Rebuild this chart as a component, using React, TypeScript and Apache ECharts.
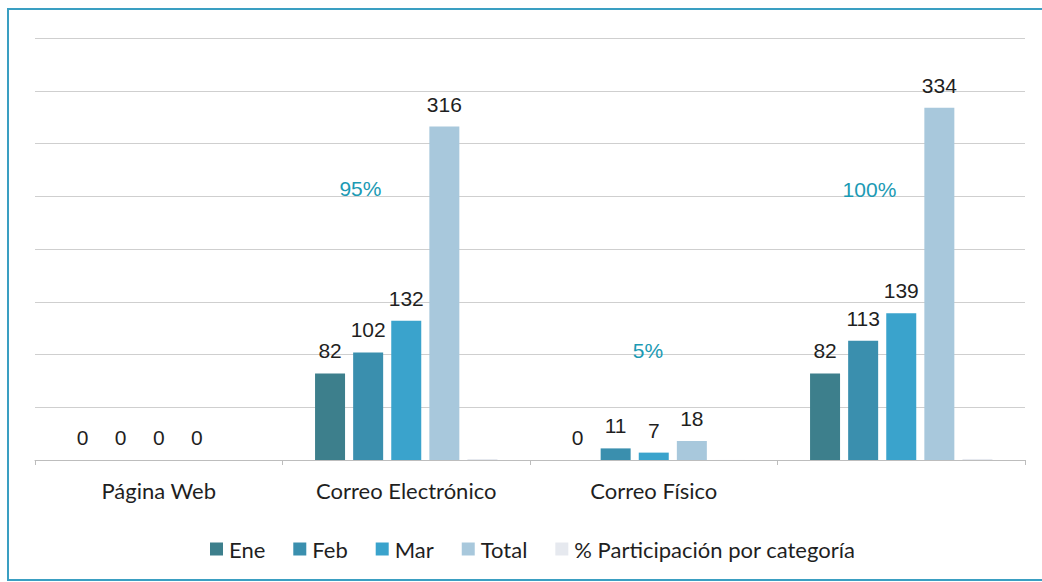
import React, { useEffect, useRef } from "react";
import * as echarts from "echarts";

const categories = ["Página Web", "Correo Electrónico", "Correo Físico", ""];
const ene = [0, 82, 0, 82];
const feb = [0, 102, 11, 113];
const mar = [0, 132, 7, 139];
const total = [0, 316, 18, 334];
const participacion: (number | null)[] = [null, 0.95, 0.05, 1.0];
const seriesNames = ["Ene", "Feb", "Mar", "Total", "% Participación por categoría"];

// layout of the manually placed percentage labels (pixel offsets)
const pctLabelOffsets: [number, number][] = [
  [0, 0],
  [-122, -260],
  [-82, -99],
  [-108, -259],
];

const colors = ["#3d7f8c", "#3a8fae", "#3aa3cc", "#a8c8dc", "#e6e9ef"];

export default function App() {
  const ref = useRef<HTMLDivElement>(null);
  useEffect(() => {
    if (!ref.current) return;
    const chart = echarts.init(ref.current, undefined, { renderer: "svg" });
    const valueLabel = {
      show: true,
      position: "top",
      distance: 12,
      fontFamily: "Liberation Sans, Arial, sans-serif",
      fontSize: 21,
      color: "#1f1f1f",
    };
    const mk = (name: string, data: number[], color: string) => ({
      name,
      type: "bar",
      data,
      barWidth: 30,
      barGap: "27%",
      itemStyle: { color },
      label: valueLabel,
    });
    chart.setOption({
      animation: false,
      backgroundColor: "#ffffff",
      color: colors,
      grid: { left: 35, right: 17, top: 38, bottom: 122, containLabel: false },
      xAxis: {
        type: "category",
        data: categories,
        axisLine: { lineStyle: { color: "#bdbdbd", width: 1 } },
        axisTick: { show: true, length: 5, lineStyle: { color: "#bdbdbd" } },
        axisLabel: {
          fontFamily: "Lato, sans-serif",
          fontSize: 22,
          color: "#1f1f1f",
          margin: 19,
        },
      },
      yAxis: {
        type: "value",
        min: 0,
        max: 400,
        interval: 50,
        axisLabel: { show: false },
        axisLine: { show: false },
        axisTick: { show: false },
        splitLine: { lineStyle: { color: "#cfcfcf", width: 1 } },
      },
      legend: {
        left: 205,
        top: 533,
        itemWidth: 13,
        itemHeight: 13,
        itemGap: 28,
        icon: "rect",
        textStyle: { fontFamily: "Lato, sans-serif", fontSize: 22, color: "#1f1f1f", padding: [0, 0, 0, 1] },
        data: seriesNames,
      },
      graphic: [
        {
          type: "rect",
          shape: { x: 8, y: 9, width: 1040, height: 571 },
          style: { fill: "none", stroke: "#3a9fc2", lineWidth: 2 },
          silent: true,
        },
      ],
      series: [
        mk(seriesNames[0], ene, colors[0]),
        mk(seriesNames[1], feb, colors[1]),
        mk(seriesNames[2], mar, colors[2]),
        mk(seriesNames[3], total, colors[3]),
        {
          name: seriesNames[4],
          type: "bar",
          barWidth: 30,
          barGap: "27%",
          itemStyle: { color: colors[4] },
          data: participacion.map((v, i) => ({
            value: v === null ? "-" : v,
            label: {
              show: v !== null,
              position: "top",
              distance: 0,
              offset: pctLabelOffsets[i],
              fontFamily: "Liberation Sans, Arial, sans-serif",
              fontSize: 21,
              color: "#1b9ab4",
              formatter: (p: any) => Math.round(p.value * 100) + "%",
            },
          })),
        },
      ],
    });
    return () => chart.dispose();
  }, []);
  return (
    <div
      ref={ref}
      style={{ position: "fixed", left: 0, top: 0, width: 1042, height: 582, background: "#fff" }}
    />
  );
}
